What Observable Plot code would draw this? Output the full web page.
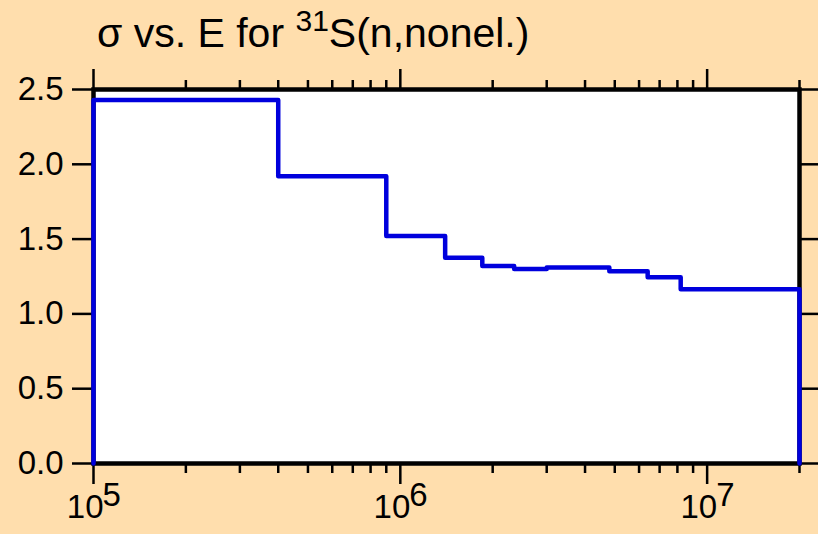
<!DOCTYPE html>
<html>
<head>
<meta charset="utf-8">
<script src="https://cdn.jsdelivr.net/npm/d3@7"></script>
<script src="https://cdn.jsdelivr.net/npm/@observablehq/plot@0.6"></script>
<style>
  html, body { margin: 0; padding: 0; background: #FFDEAD; }
  #chart { width: 818px; height: 534px; }
</style>
</head>
<body>
<div id="chart"></div>
<script>
// Data
const energy = [1e5, 4e5, 9e5, 1.4e6, 1.85e6, 2.35e6, 3e6, 4.8e6, 6.4e6, 8.2e6, 2e7]; // bin edges (eV)
const sigma = [2.43, 1.92, 1.52, 1.375, 1.32, 1.30, 1.31, 1.285, 1.245, 1.165];     // barns per bin
const yTicks = [0, 0.5, 1.0, 1.5, 2.0, 2.5];
const majorX = [1e5, 1e6, 1e7];
const exponents = ["5", "6", "7"];
const minorX = [2e5, 3e5, 4e5, 5e5, 6e5, 7e5, 8e5, 9e5,
                2e6, 3e6, 4e6, 5e6, 6e6, 7e6, 8e6, 9e6, 2e7];
const titleMain = "σ vs. E for ";
const titleSup = "31";
const titleRest = "S(n,nonel.)";

const points = [{e: energy[0], s: 0}];
sigma.forEach((s, i) => points.push({e: energy[i], s}));
points.push({e: energy[energy.length - 1], s: sigma[sigma.length - 1]});
points.push({e: energy[energy.length - 1], s: 0});

const majors = majorX.map((e, i) => ({e, exp: exponents[i]}));
const font = "Liberation Sans, Arial, Helvetica, sans-serif";
const blank = () => "";

const plot = Plot.plot({
  width: 818,
  height: 534,
  marginLeft: 93,
  marginRight: 19,
  marginTop: 89,
  marginBottom: 71,
  style: {background: "transparent", fontFamily: font, color: "black", overflow: "visible"},
  x: {type: "log", domain: [1e5, 2e7]},
  y: {domain: [0, 2.5]},
  marks: [
    Plot.frame({fill: "white", stroke: "none"}),
    Plot.axisY(yTicks, {anchor: "left", tickSize: 21, tickPadding: 9, fontSize: 33, strokeWidth: 2.5, tickFormat: d3.format(".1f"), label: null}),
    Plot.axisY(yTicks, {anchor: "right", tickSize: 21, strokeWidth: 2.5, tickFormat: blank, label: null}),
    Plot.axisX(minorX, {anchor: "bottom", tickSize: 10, strokeWidth: 2.5, tickFormat: blank, label: null}),
    Plot.axisX(majorX, {anchor: "bottom", tickSize: 21, strokeWidth: 2.5, tickFormat: blank, label: null}),
    Plot.axisX(minorX, {anchor: "top", tickSize: 10, strokeWidth: 2.5, tickFormat: blank, label: null}),
    Plot.axisX(majorX, {anchor: "top", tickSize: 21, strokeWidth: 2.5, tickFormat: blank, label: null}),
    Plot.text(majors, {x: "e", text: () => "10", frameAnchor: "bottom", lineAnchor: "bottom", textAnchor: "end", dx: 10, dy: 54, fontSize: 33, fill: "black"}),
    Plot.text(majors, {x: "e", text: "exp", frameAnchor: "bottom", lineAnchor: "bottom", textAnchor: "start", dx: 9, dy: 42, fontSize: 33, fill: "black"}),
    Plot.frame({stroke: "black", strokeWidth: 4.5}),
    Plot.line(points, {x: "e", y: "s", curve: "step-after", stroke: "#0000dd", strokeWidth: 4.5})
  ]
});

const svg = d3.select(plot);
const t = svg.append("text")
  .attr("x", 97)
  .attr("y", 47)
  .attr("fill", "black")
  .attr("text-anchor", "start")
  .style("font-family", font)
  .style("font-size", "41px");
t.append("tspan").text(titleMain);
t.append("tspan").attr("dy", -16).style("font-size", "30px").text(titleSup);
t.append("tspan").attr("dy", 16).text(titleRest);

document.getElementById("chart").appendChild(plot);
</script>
</body>
</html>
